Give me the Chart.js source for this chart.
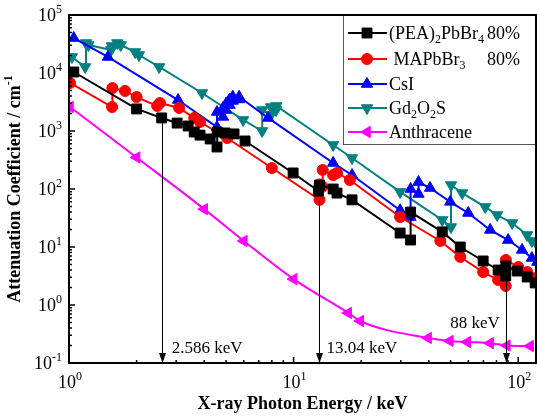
<!DOCTYPE html>
<html>
<head>
<meta charset="utf-8">
<script src="https://cdn.jsdelivr.net/npm/chart.js@4"></script>
<style>html,body{margin:0;padding:0;background:#fff}</style>
</head>
<body>
<canvas id="c" width="537" height="416"></canvas>
<script>
// values (keV, cm^-1)
const peaX = [1.05, 2.0, 2.586, 3.03, 3.39, 3.61, 3.83, 4.25, 4.56, 4.57, 4.95, 5.43, 6.08, 9.95, 12.9, 13.04, 15.0, 15.6, 18.2, 29.8, 33.17, 33.18, 45.9, 55.2, 69.8, 81.4, 88.0, 88.1, 99.0, 109.6, 119];
const peaY = [10400, 2400, 1680, 1370, 1220, 960, 850, 728, 530, 960, 925, 890, 673, 189, 92, 117, 100, 85, 65, 17.4, 13.2, 40, 18.2, 10.0, 5.74, 4.01, 3.16, 4.70, 3.85, 3.04, 2.40];

const mapX = [1.01, 1.555, 1.56, 1.775, 2.0, 2.47, 2.54, 3.09, 3.61, 3.83, 5.06, 8.0, 13.04, 13.05, 13.45, 13.47, 15.0, 15.6, 17.8, 29.8, 45.0, 55.2, 69.8, 81.4, 88.0, 88.1, 100, 109.6, 119];
const mapY = [6730, 2590, 5500, 4900, 3850, 2700, 3040, 2500, 1680, 1430, 757, 230, 65, 120, 110, 213, 174, 189, 143, 32.9, 12.7, 6.73, 3.70, 2.70, 2.13, 5.97, 4.52, 3.70, 2.92];

const csiX = [1.05, 1.49, 3.06, 4.557, 4.56, 4.852, 4.855, 5.012, 5.015, 5.188, 5.19, 5.359, 5.36, 5.714, 5.72, 7.7, 15.0, 18.2, 29.8, 33.17, 33.18, 35.98, 35.99, 40.5, 49.8, 59.9, 75.0, 90.2, 104, 115, 121.6];
const csiY = [40100, 18900, 3420, 1170, 2130, 1750, 2500, 2300, 3000, 2800, 3500, 3300, 3900, 3500, 3900, 1680, 281, 174, 43, 32.9, 100, 82, 132, 104, 60, 38.6, 19.7, 13.2, 8.9, 6.46, 5.5];

const gosX = [1.03, 1.18, 1.19, 1.22, 1.54, 1.55, 1.64, 1.70, 1.97, 2.05, 2.52, 3.91, 5.96, 7.24, 7.25, 7.93, 7.94, 8.36, 8.38, 15.0, 18.2, 29.8, 45.9, 50.2, 50.25, 56.3, 71.3, 80.6, 94, 109.6, 115, 121.6];
const gosY = [18900, 12700, 32900, 30400, 25000, 29200, 32900, 30400, 23000, 20400, 12700, 4520, 1550, 1000, 2300, 1890, 2590, 2300, 2700, 574, 342, 89, 29.2, 22.1, 117, 85, 49, 35.6, 25.9, 16.1, 12.7, 10.8];

const anthX = [1.01, 2.0, 4.0, 6.0, 10.0, 17.5, 19.8, 39.7, 49.6, 59.3, 75.0, 89.0, 113];
const anthY = [2590, 350, 45, 12.7, 2.8, 0.73, 0.53, 0.27, 0.24, 0.23, 0.22, 0.20, 0.196];

const xTickExp = [0, 1, 2];
const yTickExp = [-1, 0, 1, 2, 3, 4, 5];

const edgeX = [2.586, 13.04, 88];
const edgeTop = [1680, 65, 5.97];
const edgeText = ['2.586 keV', '13.04 keV', '88 keV'];

const legendNames = [
    [['(PEA)'], ['2', 'sub'], ['PbBr'], ['4', 'sub']],
    [[' MAPbBr'], ['3', 'sub']],
    [['CsI']],
    [['Gd'], ['2', 'sub'], ['O'], ['2', 'sub'], ['S']],
    [['Anthracene']]
];
const legendExtra = ['80%', '80%', '', '', ''];

const FONT = '"Liberation Serif", "Times New Roman", serif';

function pts(xs, ys) {
    return xs.map((x, i) => ({ x: x, y: ys[i] }));
}

function series(label, xs, ys, color, style, radius, rotation) {
    return {
        label: label,
        data: pts(xs, ys),
        showLine: true,
        borderColor: color,
        backgroundColor: color,
        borderWidth: 2,
        pointStyle: style,
        pointRadius: radius,
        pointRotation: rotation,
        pointBackgroundColor: color,
        pointBorderColor: color,
        pointBorderWidth: 1
    };
}

const datasets = [
    series('(PEA)2PbBr4 80%', peaX, peaY, '#000000', 'rect', 7, 0),
    series('MAPbBr3 80%', mapX, mapY, '#ff0000', 'circle', 5.5, 0),
    series('CsI', csiX, csiY, '#0000ff', 'triangle', 6.5, 0),
    series('Gd2O2S', gosX, gosY, '#008080', 'triangle', 6.5, 180),
    series('Anthracene', anthX, anthY, '#ff00ff', 'triangle', 6.5, -90)
];
datasets[4].cubicInterpolationMode = 'monotone';

function drawParts(ctx, parts, x, y, size) {
    parts.forEach(p => {
        if (p[1] === 'sub') {
            ctx.font = Math.round(size * 0.68) + 'px ' + FONT;
            ctx.fillText(p[0], x, y + 4);
        } else if (p[1] === 'sup') {
            ctx.font = Math.round(size * 0.68) + 'px ' + FONT;
            ctx.fillText(p[0], x, y - 8);
        } else {
            ctx.font = size + 'px ' + FONT;
            ctx.fillText(p[0], x, y);
        }
        x += ctx.measureText(p[0]).width;
    });
    return x;
}

function partsWidth(ctx, parts, size) {
    let w = 0;
    parts.forEach(p => {
        ctx.font = (p[1] ? Math.round(size * 0.68) : size) + 'px ' + FONT;
        w += ctx.measureText(p[0]).width;
    });
    return w;
}

const decor = {
    id: 'decor',
    afterDatasetsDraw(chart) {
        const ctx = chart.ctx;
        const a = chart.chartArea;
        const xs = chart.scales.x;
        const ys = chart.scales.y;
        ctx.save();

        // edge arrows
        ctx.strokeStyle = '#000';
        ctx.fillStyle = '#000';
        ctx.lineWidth = 1;
        edgeX.forEach((e, i) => {
            const px = Math.round(xs.getPixelForValue(e)) + 0.5;
            const top = ys.getPixelForValue(edgeTop[i]);
            ctx.beginPath();
            ctx.moveTo(px, top);
            ctx.lineTo(px, a.bottom - 8);
            ctx.stroke();
            ctx.beginPath();
            ctx.moveTo(px - 3.5, a.bottom - 10);
            ctx.lineTo(px + 3.5, a.bottom - 10);
            ctx.lineTo(px, a.bottom);
            ctx.closePath();
            ctx.fill();
        });
        ctx.font = '17px ' + FONT;
        ctx.textBaseline = 'alphabetic';
        ctx.textAlign = 'left';
        ctx.fillText(edgeText[0], xs.getPixelForValue(edgeX[0]) + 10, 353);
        ctx.fillText(edgeText[1], xs.getPixelForValue(edgeX[1]) + 7, 353);
        ctx.textAlign = 'right';
        ctx.fillText(edgeText[2], xs.getPixelForValue(edgeX[2]) - 6, 328);

        // frame
        ctx.lineWidth = 2;
        ctx.strokeRect(a.left, a.top, a.right - a.left, a.bottom - a.top);

        // ticks
        ctx.lineWidth = 1.5;
        ctx.beginPath();
        for (let e = 0; e <= 2; e++) {
            for (let m = 1; m <= 9; m++) {
                const v = m * Math.pow(10, e);
                if (v > xs.max) break;
                const px = xs.getPixelForValue(v);
                const len = m === 1 ? 6 : 3;
                ctx.moveTo(px, a.bottom);
                ctx.lineTo(px, a.bottom - len);
            }
        }
        for (let e = -1; e <= 5; e++) {
            for (let m = 1; m <= 9; m++) {
                const v = m * Math.pow(10, e);
                if (v > ys.max) break;
                const py = ys.getPixelForValue(v);
                const len = m === 1 ? 6 : 3;
                ctx.moveTo(a.left, py);
                ctx.lineTo(a.left + len, py);
            }
        }
        ctx.stroke();

        // tick labels
        ctx.textAlign = 'left';
        yTickExp.forEach(e => {
            const py = ys.getPixelForValue(Math.pow(10, e));
            const parts = [['10'], [String(e), 'sup']];
            const w = partsWidth(ctx, parts, 18);
            drawParts(ctx, parts, 62 - w, py + 6, 18);
        });
        xTickExp.forEach(e => {
            const px = xs.getPixelForValue(Math.pow(10, e));
            drawParts(ctx, [['10'], [String(e), 'sup']], px - 11, 388, 18);
        });

        // axis titles
        ctx.font = 'bold 18px ' + FONT;
        ctx.textAlign = 'center';
        ctx.fillText('X-ray Photon Energy / keV', (a.left + a.right) / 2, 409);
        ctx.save();
        ctx.translate(20, (a.top + a.bottom) / 2);
        ctx.rotate(-Math.PI / 2);
        const t1 = 'Attenuation Coefficient / cm';
        const w1 = ctx.measureText(t1).width;
        ctx.font = 'bold 12px ' + FONT;
        const w2 = ctx.measureText('-1').width;
        ctx.textAlign = 'left';
        ctx.font = 'bold 18px ' + FONT;
        ctx.fillText(t1, -(w1 + w2) / 2, 0);
        ctx.font = 'bold 12px ' + FONT;
        ctx.fillText('-1', -(w1 + w2) / 2 + w1, -8);
        ctx.restore();

        // legend
        const lx = 343, ly = a.top, lw = a.right - lx, lh = 130;
        ctx.fillStyle = '#fff';
        ctx.fillRect(lx, ly, lw, lh);
        ctx.strokeStyle = '#555';
        ctx.lineWidth = 1;
        ctx.strokeRect(lx + 0.5, ly + 0.5, lw - 1, lh - 1);
        const rowY = [33, 59, 84, 108, 132];
        datasets.forEach((d, i) => {
            const y = rowY[i];
            ctx.strokeStyle = d.borderColor;
            ctx.fillStyle = d.borderColor;
            ctx.lineWidth = 2;
            ctx.beginPath();
            ctx.moveTo(348, y);
            ctx.lineTo(387, y);
            ctx.stroke();
            ctx.lineWidth = 1;
            Chart.helpers.drawPoint(ctx, {
                pointStyle: d.pointStyle,
                radius: d.pointRadius,
                rotation: d.pointRotation,
                borderWidth: 1
            }, 367, y);
            ctx.fillStyle = '#000';
            ctx.textAlign = 'left';
            drawParts(ctx, legendNames[i], 389, y + 6, 18);
            if (legendExtra[i]) {
                ctx.font = '18px ' + FONT;
                ctx.fillText(legendExtra[i], 487, y + 6);
            }
        });
        ctx.strokeStyle = '#000';
        ctx.lineWidth = 2;
        ctx.beginPath();
        ctx.moveTo(lx, a.top);
        ctx.lineTo(a.right, a.top);
        ctx.lineTo(a.right, a.top + lh);
        ctx.stroke();
        ctx.restore();
    }
};

new Chart(document.getElementById('c'), {
    type: 'scatter',
    data: { datasets: datasets },
    options: {
        responsive: false,
        animation: false,
        devicePixelRatio: 1,
        layout: { autoPadding: false, padding: { left: 69, top: 15, right: 1, bottom: 53 } },
        scales: {
            x: { type: 'logarithmic', min: 1, max: 120, display: false },
            y: { type: 'logarithmic', min: 0.1, max: 100000, display: false }
        },
        plugins: {
            legend: { display: false },
            tooltip: { enabled: false }
        }
    },
    plugins: [decor]
});
</script>
</body>
</html>
